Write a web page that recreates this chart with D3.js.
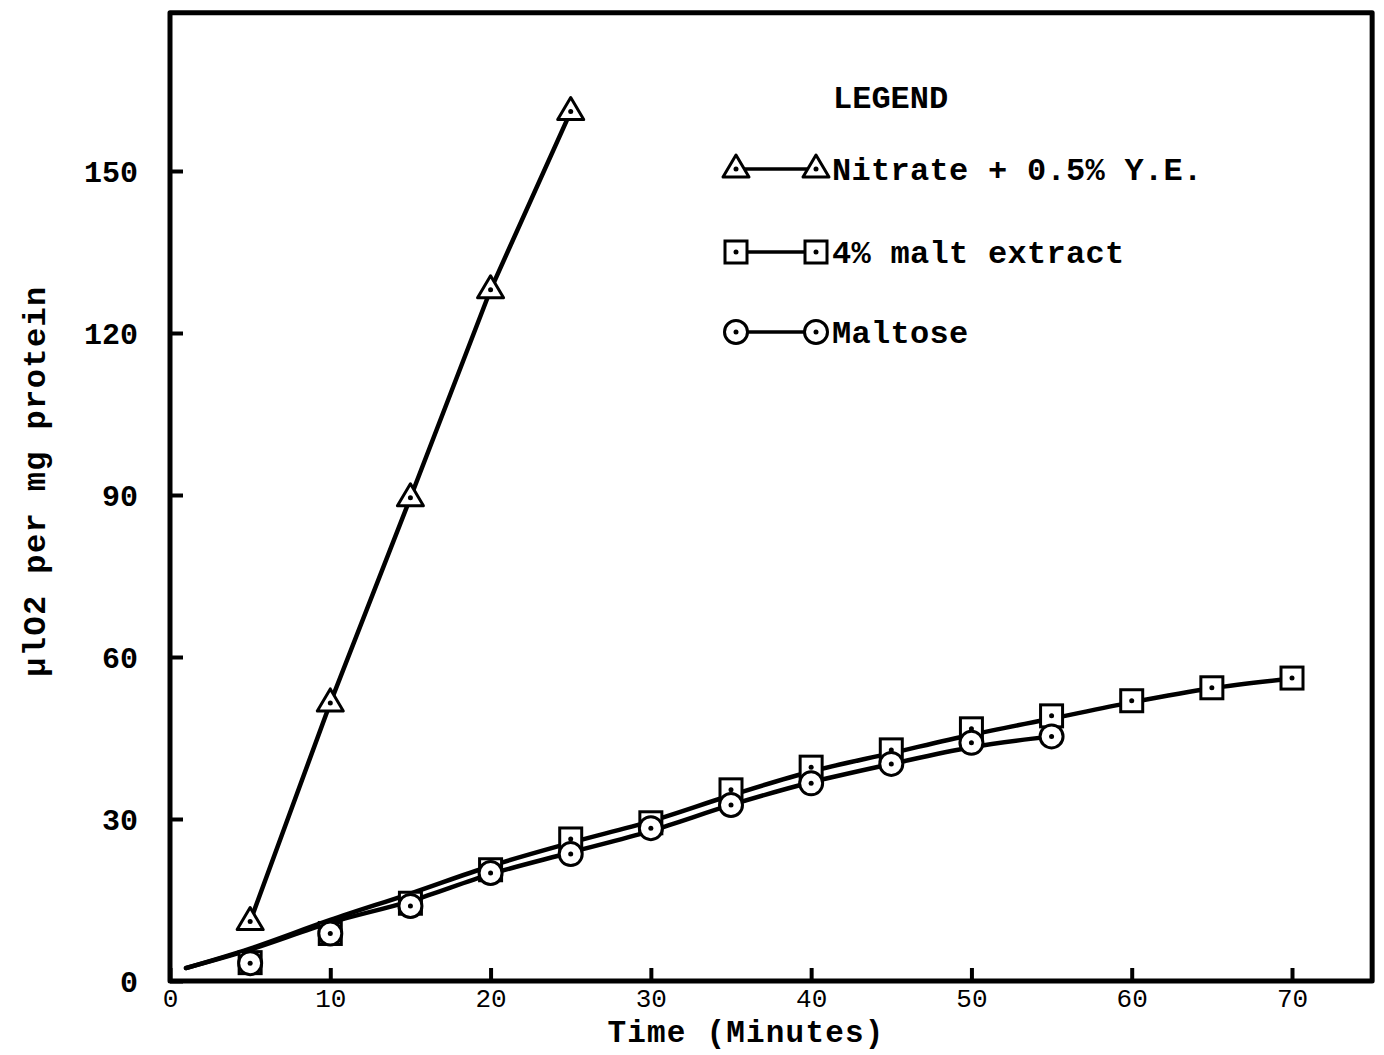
<!DOCTYPE html>
<html>
<head>
<meta charset="utf-8">
<script src="https://cdn.jsdelivr.net/npm/d3@7"></script>
<style>
  html, body { margin: 0; padding: 0; background: #fff; }
  svg { display: block; }
  text { font-family: "Liberation Mono", "DejaVu Sans Mono", monospace; fill: #000; }
</style>
</head>
<body>
<svg id="chart" width="1384" height="1055"></svg>
<script>
// ---------- data ----------
const xTicks = [0, 10, 20, 30, 40, 50, 60, 70];
const yTicks = [0, 30, 60, 90, 120, 150];

// Nitrate + 0.5% Y.E. (triangles)
const nitrateTime  = [5, 10, 15, 20, 25];
const nitrateValue = [11, 51.5, 89.5, 128, 161];

// 4% malt extract (squares)
const maltTime  = [5, 10, 15, 20, 25, 30, 35, 40, 45, 50, 55, 60, 65, 70];
const maltValue = [3.4, 8.8, 14.4, 20.6, 26.3, 29.3, 35.4, 39.6, 42.8, 46.7, 49.1, 51.9, 54.3, 56.1];

// Maltose (circles)
const maltoseTime  = [5, 10, 15, 20, 25, 30, 35, 40, 45, 50, 55];
const maltoseValue = [3.3, 8.8, 13.9, 20.0, 23.5, 28.3, 32.6, 36.6, 40.2, 44.1, 45.3];

// hand-drawn fitted curves
const maltCurveTime  = [1, 5, 10, 15, 20, 25, 30, 35, 40, 45, 50, 55, 60, 65, 70];
const maltCurveValue = [2.4, 6.0, 11.3, 16.2, 21.3, 25.6, 29.6, 34.4, 38.8, 42.2, 45.6, 48.6, 51.6, 54.2, 56.0];
const maltoseCurveTime  = [1, 5, 10, 15, 20, 25, 30, 35, 40, 45, 50, 55];
const maltoseCurveValue = [2.4, 5.8, 10.8, 14.8, 19.8, 23.8, 27.8, 32.6, 36.8, 40.2, 43.3, 45.3];

const legendLabels = ["Nitrate + 0.5% Y.E.", "4% malt extract", "Maltose"];
const legendShapes = ["triangle", "square", "circle"];
const legendTitle = "LEGEND";
const xTitle = "Time (Minutes)";
const yTitle = "\u00b5lO2 per mg protein";
const xMax = 75, yMax = 179.3;

// ---------- drawing ----------
const svg = d3.select("#chart");
const x = d3.scaleLinear().domain([0, 70]).range([170, 1292]);
const y = d3.scaleLinear().domain([0, 150]).range([981, 171]);

const zip = (a, b) => a.map((v, i) => [v, b[i]]);

// frame
svg.append("path")
  .attr("d", `M${x(0)},${y(yMax)} L${x(xMax)},${y(yMax)} L${x(xMax)},${y(0)} L${x(0)},${y(0)} Z`)
  .attr("fill", "none").attr("stroke", "#000").attr("stroke-width", 5)
  .attr("stroke-linejoin", "round");

// axes
const yAxis = d3.axisLeft(y).tickValues(yTicks).tickSize(-13).tickPadding(32);
const gy = svg.append("g").attr("transform", `translate(${x(0)},0)`).call(yAxis);
gy.select(".domain").remove();
gy.selectAll(".tick line").attr("stroke", "#000").attr("stroke-width", 4);
gy.selectAll(".tick text").style("font-size", "30px").style("font-weight", "bold").attr("dy", "0.35em");

const xAxis = d3.axisBottom(x).tickValues(xTicks).tickSize(-13).tickPadding(0);
const gx = svg.append("g").attr("transform", `translate(0,${y(0)})`).call(xAxis);
gx.select(".domain").remove();
gx.selectAll(".tick line").attr("stroke", "#000").attr("stroke-width", 4);
gx.selectAll(".tick text").style("font-size", "26px").attr("y", 17).attr("dy", "0.35em");

// titles
svg.append("text").attr("x", 746).attr("y", 1042).attr("text-anchor", "middle")
  .style("font-size", "31px").style("font-weight", "bold").style("letter-spacing", "1.2px").text(xTitle);
svg.append("text").attr("transform", `translate(45,481) rotate(-90)`).attr("text-anchor", "middle")
  .style("font-size", "32px").style("font-weight", "bold").style("letter-spacing", "1.4px").text(yTitle);

// lines
const line = d3.line().x(d => x(d[0])).y(d => y(d[1]));
const smooth = d3.line().x(d => x(d[0])).y(d => y(d[1])).curve(d3.curveCatmullRom.alpha(0.5));

svg.append("path").datum(zip(nitrateTime, nitrateValue)).attr("d", line)
  .attr("fill", "none").attr("stroke", "#000").attr("stroke-width", 4.5).attr("stroke-linecap", "round");
svg.append("path").datum(zip(maltCurveTime, maltCurveValue)).attr("d", smooth)
  .attr("fill", "none").attr("stroke", "#000").attr("stroke-width", 4.5).attr("stroke-linecap", "round");
svg.append("path").datum(zip(maltoseCurveTime, maltoseCurveValue)).attr("d", smooth)
  .attr("fill", "none").attr("stroke", "#000").attr("stroke-width", 4.5).attr("stroke-linecap", "round");

// marker helpers
function drawMarker(g, shape, cx, cy) {
  if (shape === "triangle") {
    g.append("path").attr("d", `M${cx},${cy - 14} L${cx + 13},${cy + 8} L${cx - 13},${cy + 8} Z`)
      .attr("fill", "#fff").attr("stroke", "#000").attr("stroke-width", 3).attr("stroke-linejoin", "round");
  } else if (shape === "square") {
    g.append("rect").attr("x", cx - 11).attr("y", cy - 11).attr("width", 22).attr("height", 22)
      .attr("fill", "#fff").attr("stroke", "#000").attr("stroke-width", 3);
  } else {
    g.append("circle").attr("cx", cx).attr("cy", cy).attr("r", 11.5)
      .attr("fill", "#fff").attr("stroke", "#000").attr("stroke-width", 3);
  }
  g.append("circle").attr("cx", cx).attr("cy", cy).attr("r", 2.5).attr("fill", "#000");
}

const gm = svg.append("g");
zip(maltTime, maltValue).forEach(d => drawMarker(gm, "square", x(d[0]), y(d[1])));
zip(maltoseTime, maltoseValue).forEach(d => drawMarker(gm, "circle", x(d[0]), y(d[1])));
zip(nitrateTime, nitrateValue).forEach(d => drawMarker(gm, "triangle", x(d[0]), y(d[1])));

// legend
const lg = svg.append("g");
lg.append("text").attr("x", 833).attr("y", 108).style("font-size", "32px").style("font-weight", "bold").text(legendTitle);
const rowY = [169, 252, 332];
legendLabels.forEach((lab, i) => {
  const yy = rowY[i];
  lg.append("line").attr("x1", 738).attr("x2", 814).attr("y1", yy).attr("y2", yy)
    .attr("stroke", "#000").attr("stroke-width", 3.5);
  drawMarker(lg, legendShapes[i], 736, yy);
  drawMarker(lg, legendShapes[i], 816, yy);
  lg.append("text").attr("x", 832).attr("y", yy).attr("dy", "0.35em")
    .style("font-size", "32px").style("font-weight", "bold").style("letter-spacing", "0.3px").text(lab);
});
</script>
</body>
</html>
